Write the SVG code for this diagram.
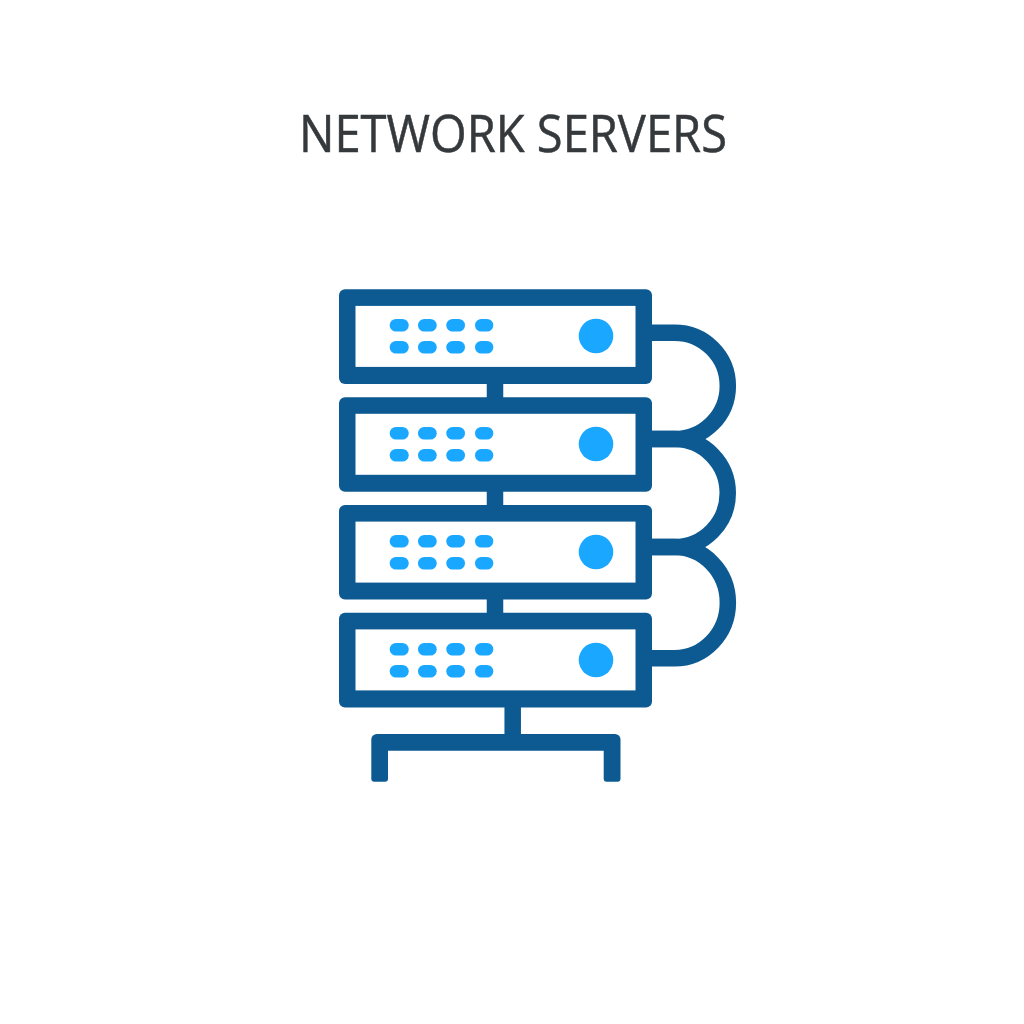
<svg xmlns="http://www.w3.org/2000/svg" width="1024" height="1024" viewBox="0 0 1024 1024">
<style>
.outer{fill:#0d5a92}
.inner{fill:#fff}
.line{fill:none;stroke:#0d5a92;stroke-width:16.5}
.led{fill:#1aa7ff}
.title{font-family:"Open Sans","Noto Sans",sans-serif;font-size:51px;fill:#35393c;stroke:#35393c;stroke-width:.5}
</style>
<defs>
<g id="leds">
<rect class="led" x="389.7" y="-17" width="19" height="12.6" rx="6.3"/>
<rect class="led" x="418" y="-17" width="18.7" height="12.6" rx="6.3"/>
<rect class="led" x="446.3" y="-17" width="18.7" height="12.6" rx="6.3"/>
<rect class="led" x="475" y="-17" width="18.3" height="12.6" rx="6.3"/>
<rect class="led" x="389.7" y="5" width="19" height="12.6" rx="6.3"/>
<rect class="led" x="418" y="5" width="18.7" height="12.6" rx="6.3"/>
<rect class="led" x="446.3" y="5" width="18.7" height="12.6" rx="6.3"/>
<rect class="led" x="475" y="5" width="18.3" height="12.6" rx="6.3"/>
<circle class="led" cx="596" cy="0" r="17.3"/>
</g>
<g id="chassis">
<rect class="outer" x="339" y="0" width="313" height="94.6" rx="6"/>
<rect class="inner" x="355.5" y="16.6" width="280" height="61"/>
</g>
</defs>
<rect width="1024" height="1024" fill="#fff"/>
<text class="title" x="513" y="152" text-anchor="middle" textLength="428" lengthAdjust="spacingAndGlyphs">NETWORK SERVERS</text>
<g id="connectors">
<path class="line" d="M640 332.7H674.6A53.2 53.2 0 0 1 674.6 439.1H640"/>
<path class="line" d="M640 439.1H674.6A53.2 54 0 0 1 674.6 547.1H640"/>
<path class="line" d="M640 547.1H674.6A53.2 55.5 0 0 1 674.6 658.2H640"/>
<path class="line" d="M495 380V402M495 488V510M495 596V618M512.7 700V742"/>
</g>
<g id="server-1"><use href="#chassis" y="289.3"/><use href="#leds" y="336"/></g>
<g id="server-2"><use href="#chassis" y="397.2"/><use href="#leds" y="444"/></g>
<g id="server-3"><use href="#chassis" y="505"/><use href="#leds" y="552"/></g>
<g id="server-4"><use href="#chassis" y="612.8"/><use href="#leds" y="660"/></g>
<g id="stand"><path class="outer" d="M377 734H615A5.5 5.5 0 0 1 620.5 739.5V778.7A3 3 0 0 1 617.5 781.7H606.7A3 3 0 0 1 603.7 778.7V750.7H388V778.7A3 3 0 0 1 385 781.7H374.3A3 3 0 0 1 371.3 778.7V739.5A5.5 5.5 0 0 1 377 734Z"/></g>
</svg>
